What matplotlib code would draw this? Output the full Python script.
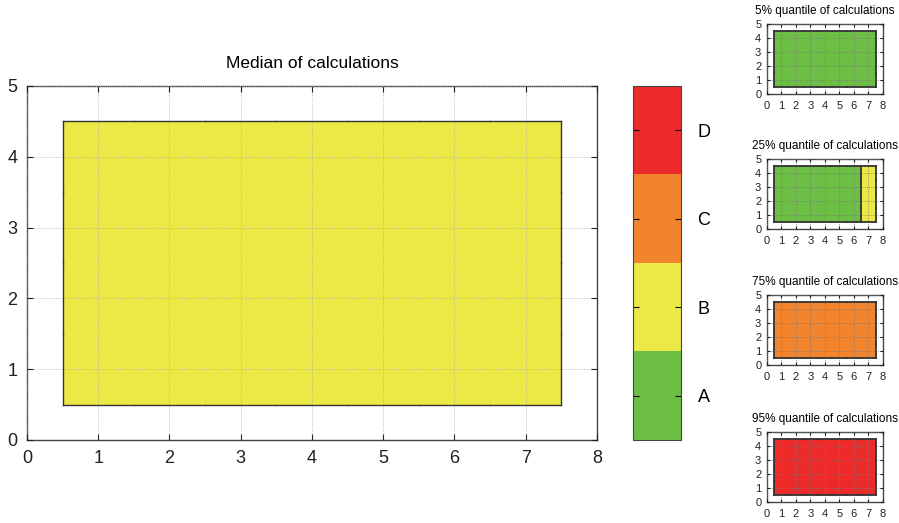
import numpy as np
import matplotlib.pyplot as plt
from matplotlib.colors import ListedColormap, BoundaryNorm

plt.rcParams['font.family'] = ['Liberation Sans', 'DejaVu Sans']

# data: categories on a 7 x 4 grid (rows = y 1..4, cols = x 1..7), 1=A .. 4=D
x = [1, 2, 3, 4, 5, 6, 7]
y = [1, 2, 3, 4]
classes = ['A', 'B', 'C', 'D']
class_colors = ['#6dbe45', '#ece947', '#f2842e', '#ec2a2a']

median = [[2, 2, 2, 2, 2, 2, 2]] * 4
q05 = [[1, 1, 1, 1, 1, 1, 1]] * 4
q25 = [[1, 1, 1, 1, 1, 1, 2]] * 4
q75 = [[3, 3, 3, 3, 3, 3, 3]] * 4
q95 = [[4, 4, 4, 4, 4, 4, 4]] * 4

small_titles = ['5% quantile of calculations', '25% quantile of calculations',
                '75% quantile of calculations', '95% quantile of calculations']
small_data = [q05, q25, q75, q95]

cmap = ListedColormap(class_colors)
norm = BoundaryNorm([0.5, 1.5, 2.5, 3.5, 4.5], cmap.N)
edge = '#333333'


def region_outline(ax, z, lw):
    z = np.asarray(z)
    ny, nx = z.shape
    xs = np.asarray(x, float)
    ys = np.asarray(y, float)
    segs = []
    for j in range(ny):
        for i in range(nx):
            x0, x1 = xs[i] - 0.5, xs[i] + 0.5
            y0, y1 = ys[j] - 0.5, ys[j] + 0.5
            if i == 0:
                segs.append(([x0, x0], [y0, y1]))
            if i == nx - 1 or z[j, i + 1] != z[j, i]:
                segs.append(([x1, x1], [y0, y1]))
            if j == 0:
                segs.append(([x0, x1], [y0, y0]))
            if j == ny - 1 or z[j + 1, i] != z[j, i]:
                segs.append(([x0, x1], [y1, y1]))
    for sx, sy in segs:
        ax.plot(sx, sy, color=edge, lw=lw, solid_capstyle='projecting', zorder=3)


def draw(ax, z, fs, lw, glw, gcol, pad):
    ax.pcolormesh(x, y, np.asarray(z), cmap=cmap, norm=norm, shading='nearest', zorder=1)
    region_outline(ax, z, lw)
    ax.set_xlim(0, 8)
    ax.set_ylim(0, 5)
    ax.set_xticks(range(9))
    ax.set_yticks(range(6))
    ax.grid(True, linestyle=':', color=gcol, linewidth=glw, zorder=4)
    ax.set_axisbelow(False)
    ax.tick_params(direction='in', top=True, right=True, labelsize=fs, colors='#222222',
                   length=4 if fs > 10 else 2.5, width=0.8, pad=pad)
    for s in ax.spines.values():
        s.set_color('#444444')
        s.set_linewidth(1.0)


fig = plt.figure(figsize=(8.99, 5.23), dpi=100)

ax = fig.add_axes([0.030, 0.1587, 0.634, 0.677])
draw(ax, median, 13, 1.0, 0.6, '#aaaaaa', 7)
ax.set_title('Median of calculations', fontsize=12.5, pad=13)

cax = fig.add_axes([0.704, 0.1587, 0.0534, 0.677])
sm = plt.cm.ScalarMappable(cmap=cmap, norm=norm)
cb = fig.colorbar(sm, cax=cax, ticks=[1, 2, 3, 4])
cb.minorticks_off()
cb.set_ticklabels(classes)
cb.outline.set_edgecolor('#444444')
cax.tick_params(direction='in', left=True, right=True, labelsize=13, length=4, pad=12)

bottoms = [0.820, 0.562, 0.302, 0.040]
for b, z, t in zip(bottoms, small_data, small_titles):
    sax = fig.add_axes([0.853, b, 0.129, 0.134])
    draw(sax, z, 8, 1.3, 0.6, '#777777', 4)
    sax.tick_params(axis='x', pad=5)
    sax.set_title(t, fontsize=8.5, pad=7)

fig.savefig('out.png', dpi=100)
